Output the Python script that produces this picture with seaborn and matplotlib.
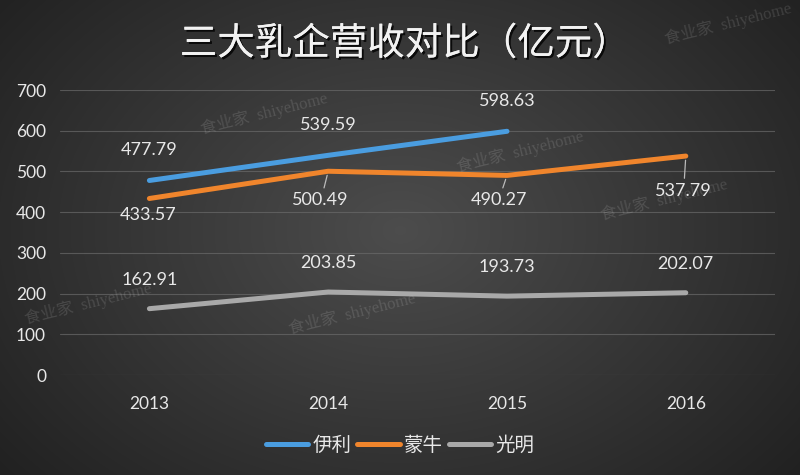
import numpy as np
import pandas as pd
import matplotlib.pyplot as plt
import matplotlib.patheffects as pe
import seaborn as sns

years = ["2013", "2014", "2015", "2016"]
yili = [477.79, 539.59, 598.63, None]
mengniu = [433.57, 500.49, 490.27, 537.79]
guangming = [162.91, 203.85, 193.73, 202.07]
companies = ["伊利", "蒙牛", "光明"]
colors = ["#4a9de0", "#f0852c", "#a9a9a9"]
title = "三大乳企营收对比（亿元）"
watermark = "食业家  shiyehome"

rows = []
for name, vals in zip(companies, [yili, mengniu, guangming]):
    for i, v in enumerate(vals):
        if v is not None:
            rows.append({"year": i, "value": v, "company": name})
df = pd.DataFrame(rows)

sns.set_theme(style="dark")
plt.rcParams['font.family'] = ['Lato', 'Noto Sans CJK SC', 'DejaVu Sans']
txt = "#e8e8e8"

fig = plt.figure(figsize=(8, 4.75), dpi=100)

# radial gradient background
bg = fig.add_axes([0, 0, 1, 1], zorder=-10)
yy, xx = np.mgrid[0:475, 0:800]
r = np.sqrt(((xx - 400) / 520) ** 2 + ((yy - 230) / 380) ** 2)
shade = np.clip(0.30 - 0.17 * r, 0.12, 0.30)
bg.imshow(np.dstack([shade, shade, shade]), aspect="auto", extent=[0, 1, 0, 1])
bg.axis("off")

ax = fig.add_axes([0.075, 0.2105, 0.894, 0.6])
ax.set_facecolor("none")
sns.lineplot(data=df, x="year", y="value", hue="company", palette=colors,
             hue_order=companies, linewidth=3.6, ax=ax, legend=False,
             solid_capstyle="round", solid_joinstyle="round")

ax.set_xlim(-0.5, 3.5)
ax.set_ylim(0, 700)
ax.set_yticks(range(0, 701, 100))
ax.set_xticks(range(4))
ax.set_xticklabels(years)
ax.set_xlabel("")
ax.set_ylabel("")
ax.grid(axis="y", color="#6a6a6a", linewidth=0.8, alpha=0.7)
ax.grid(axis="x", visible=False)
for s in ax.spines.values():
    s.set_visible(False)
ax.tick_params(colors=txt, labelsize=12.5, length=0)
ax.tick_params(axis="y", pad=10)
ax.tick_params(axis="x", pad=15)

lbl = dict(color=txt, fontsize=13, ha="center", va="center",
           textcoords="offset points")
for i, v in enumerate(yili):
    if v is not None:
        ax.annotate(f"{v:.2f}", (i, v), xytext=(0, 22), **lbl)
for i, v in enumerate(guangming):
    ax.annotate(f"{v:.2f}", (i, v), xytext=(0, 21), **lbl)

m_off = [(-1, -12), (-6, -21), (-6, -18), (-2, -25)]
for i, v in enumerate(mengniu):
    dx, dy = m_off[i]
    ax.annotate(f"{v:.2f}", (i, v), xytext=(dx, dy), **lbl)
    if i > 0:
        # short leader line from point down towards the label
        ax.annotate("", (i, v), xytext=(dx * 0.5, dy + 9),
                    textcoords="offset points",
                    arrowprops=dict(arrowstyle="-", color="#bbbbbb", lw=0.9,
                                    shrinkA=0, shrinkB=3))

# title with slight shadow
fig.text(0.506, 0.907, title, ha="center", va="center", fontsize=27,
         color="#f2f2f2", family=['Noto Sans CJK SC'],
         path_effects=[pe.withSimplePatchShadow(offset=(1.5, -1.5),
                                                shadow_rgbFace="black",
                                                alpha=0.8),
                       pe.Normal()])

# watermarks
for wx, wy in [(0.91, 0.95), (0.33, 0.76), (0.65, 0.68), (0.83, 0.58),
               (0.11, 0.36), (0.44, 0.34)]:
    fig.text(wx, wy, watermark, ha="center", va="center", fontsize=12,
             color="white", alpha=0.13, rotation=14,
             family=['Liberation Serif', 'Noto Sans CJK SC'])

# legend
handles = [plt.Line2D([0], [0], color=c, lw=3.6, solid_capstyle="round")
           for c in colors]
leg = fig.legend(handles, companies, loc="center", bbox_to_anchor=(0.5, 0.064),
                 ncol=3, frameon=False, handlelength=2.2, handletextpad=0.2,
                 columnspacing=0.3, fontsize=14)
for t in leg.get_texts():
    t.set_color(txt)

fig.savefig("out.png", dpi=100)
